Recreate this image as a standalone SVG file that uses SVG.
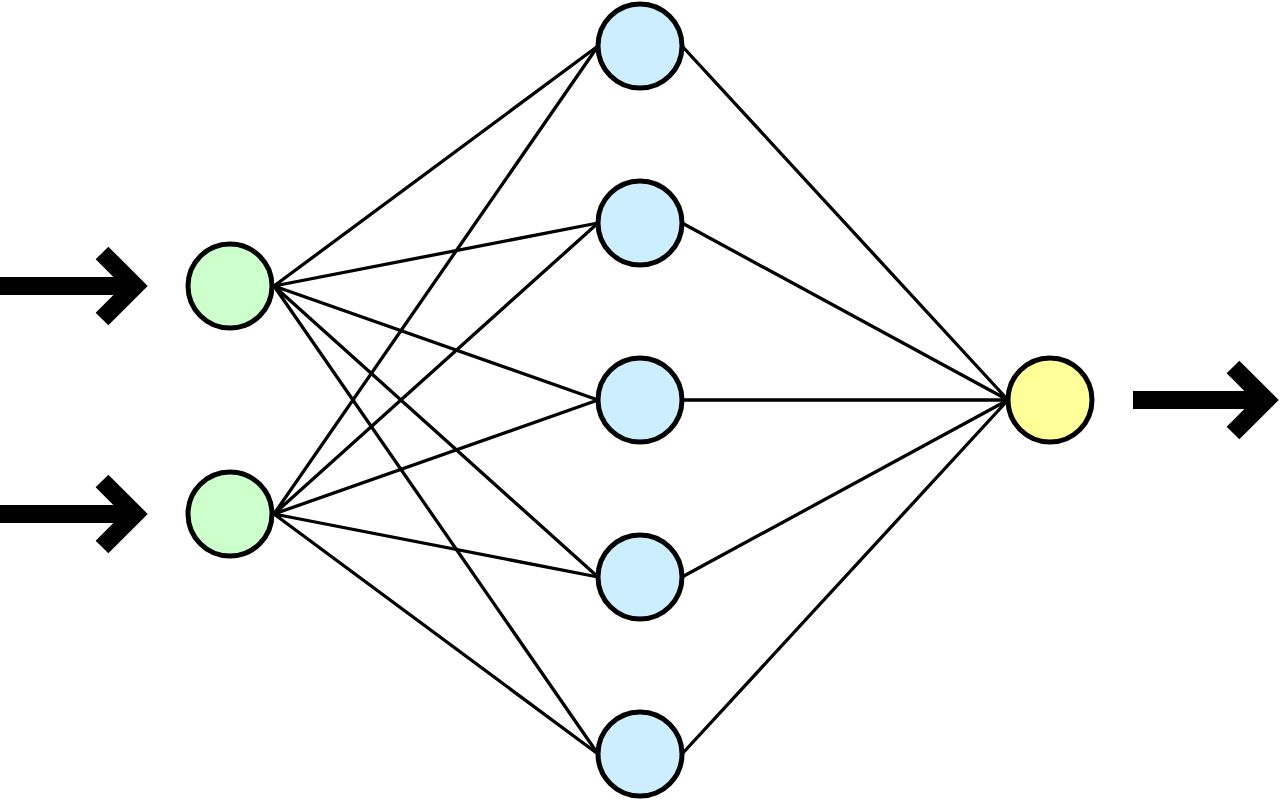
<svg xmlns="http://www.w3.org/2000/svg" width="1280" height="800" viewBox="0 0 1280 800">
<style>
.n{stroke:#000;stroke-width:5}
.in{fill:#ccffcc}
.hid{fill:#cceeff}
.out{fill:#ffff99}
.e{stroke:#000;stroke-width:3.3;fill:none}
.a{stroke:#000;stroke-width:18;fill:none;stroke-linejoin:miter;stroke-miterlimit:10}
</style>
<rect width="1280" height="800" fill="#fff"/>
<g id="connectors">
<path class="e" d="M274 286L598 46M274 286L598 223M274 286L598 400M274 286L598 577M274 286L598 754"/>
<path class="e" d="M274 514L598 46M274 514L598 223M274 514L598 400M274 514L598 577M274 514L598 754"/>
<path class="e" d="M682 46L1008 400M682 223L1008 400M682 400L1008 400M682 577L1008 400M682 754L1008 400"/>
<g id="arrow-in1"><path class="a" d="M0 286H134M102 253L135 286L102 319"/></g>
<g id="arrow-in2"><path class="a" d="M0 514H134M102 481L135 514L102 547"/></g>
<g id="arrow-out"><path class="a" d="M1133 400H1265M1233 367L1266 400L1233 433"/></g>
</g>
<g id="input1"><circle class="n in" cx="230" cy="286" r="42"/></g>
<g id="input2"><circle class="n in" cx="230" cy="514" r="42"/></g>
<g id="hidden1"><circle class="n hid" cx="640" cy="46" r="42"/></g>
<g id="hidden2"><circle class="n hid" cx="640" cy="223" r="42"/></g>
<g id="hidden3"><circle class="n hid" cx="640" cy="400" r="42"/></g>
<g id="hidden4"><circle class="n hid" cx="640" cy="577" r="42"/></g>
<g id="hidden5"><circle class="n hid" cx="640" cy="754" r="42"/></g>
<g id="output"><circle class="n out" cx="1050" cy="400" r="42"/></g>
</svg>
